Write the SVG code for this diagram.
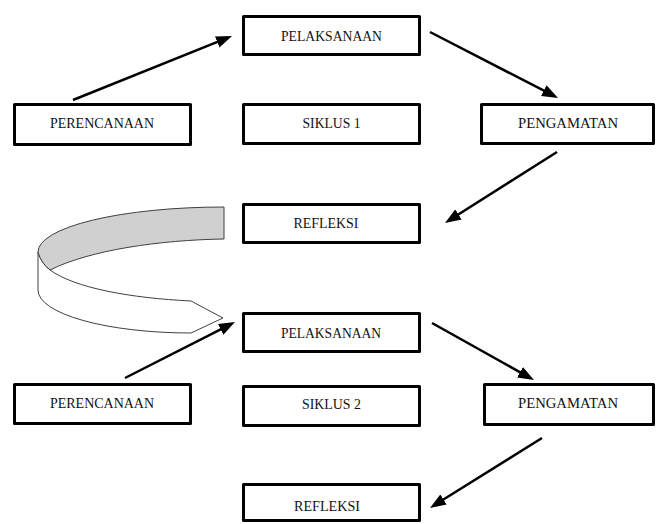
<svg xmlns="http://www.w3.org/2000/svg" width="656" height="524" viewBox="0 0 656 524">
<defs>
<style>
.box{fill:#fff;stroke:#000;stroke-width:3;stroke-linejoin:round}
.lbl{font-family:"Liberation Serif","Times New Roman",serif;font-size:14.5px;fill:#111;text-anchor:middle}
.conn{stroke:#000;stroke-width:2.5;fill:none;marker-end:url(#ah)}
.rib{stroke:#404040;stroke-width:1;stroke-linejoin:round}
</style>
<marker id="ah" markerUnits="userSpaceOnUse" markerWidth="16" markerHeight="12" refX="11" refY="6" orient="auto">
<path d="M0,0 L16,6 L0,12 z" fill="#000"/>
</marker>
</defs>
<rect width="656" height="524" fill="#fff"/>

<g id="connectors">
<line class="conn" x1="73" y1="100" x2="227.4" y2="37.9"/>
<line class="conn" x1="430" y1="32" x2="553.6" y2="95.7"/>
<line class="conn" x1="557" y1="152" x2="449.2" y2="220.3"/>
<line class="conn" x1="125" y1="378" x2="230.5" y2="324.3"/>
<line class="conn" x1="432" y1="323" x2="529.6" y2="377.6"/>
<line class="conn" x1="542" y1="438" x2="434.2" y2="505.3"/>
<g id="cycle-arrow">
<path class="rib" fill="#fff" d="M38,252 L38,290 A153,43 0 0 0 191,333 L223,318 L191,301 C130,298 75,288 50,270 Q41,263 38,252 Z"/>
<path class="rib" fill="#d0d0d0" d="M224,207 A186,45 0 0 0 38,252 Q41,263 50,270 C90,250 160,240 224,239 Z"/>
</g>
</g>

<g id="pelaksanaan1"><rect class="box" x="243.5" y="16.5" width="176" height="38"/><text class="lbl" x="331.5" y="41" textLength="101" lengthAdjust="spacingAndGlyphs">PELAKSANAAN</text></g>
<g id="perencanaan1"><rect class="box" x="14.5" y="104.5" width="176" height="40"/><text class="lbl" x="102" y="128" textLength="104" lengthAdjust="spacingAndGlyphs">PERENCANAAN</text></g>
<g id="siklus1"><rect class="box" x="243.5" y="104.5" width="176" height="39"/><text class="lbl" x="331.5" y="128" textLength="58" lengthAdjust="spacingAndGlyphs">SIKLUS 1</text></g>
<g id="pengamatan1"><rect class="box" x="481.5" y="104.5" width="172" height="39"/><text class="lbl" x="568" y="128" textLength="100" lengthAdjust="spacingAndGlyphs">PENGAMATAN</text></g>
<g id="refleksi1"><rect class="box" x="243.5" y="204.5" width="176" height="38"/><text class="lbl" x="326" y="228" textLength="65" lengthAdjust="spacingAndGlyphs">REFLEKSI</text></g>

<g id="pelaksanaan2"><rect class="box" x="243.5" y="313.5" width="176" height="38"/><text class="lbl" x="331" y="338" textLength="100" lengthAdjust="spacingAndGlyphs">PELAKSANAAN</text></g>
<g id="perencanaan2"><rect class="box" x="14.5" y="384.5" width="176" height="39"/><text class="lbl" x="102" y="408" textLength="104" lengthAdjust="spacingAndGlyphs">PERENCANAAN</text></g>
<g id="siklus2"><rect class="box" x="243.5" y="386.5" width="176" height="39"/><text class="lbl" x="331.5" y="409" textLength="59" lengthAdjust="spacingAndGlyphs">SIKLUS 2</text></g>
<g id="pengamatan2"><rect class="box" x="484.5" y="384.5" width="169" height="40"/><text class="lbl" x="568" y="408" textLength="100" lengthAdjust="spacingAndGlyphs">PENGAMATAN</text></g>
<g id="refleksi2"><rect class="box" x="243.5" y="484.5" width="176" height="36"/><text class="lbl" x="327" y="511" textLength="66" lengthAdjust="spacingAndGlyphs">REFLEKSI</text></g>
</svg>
